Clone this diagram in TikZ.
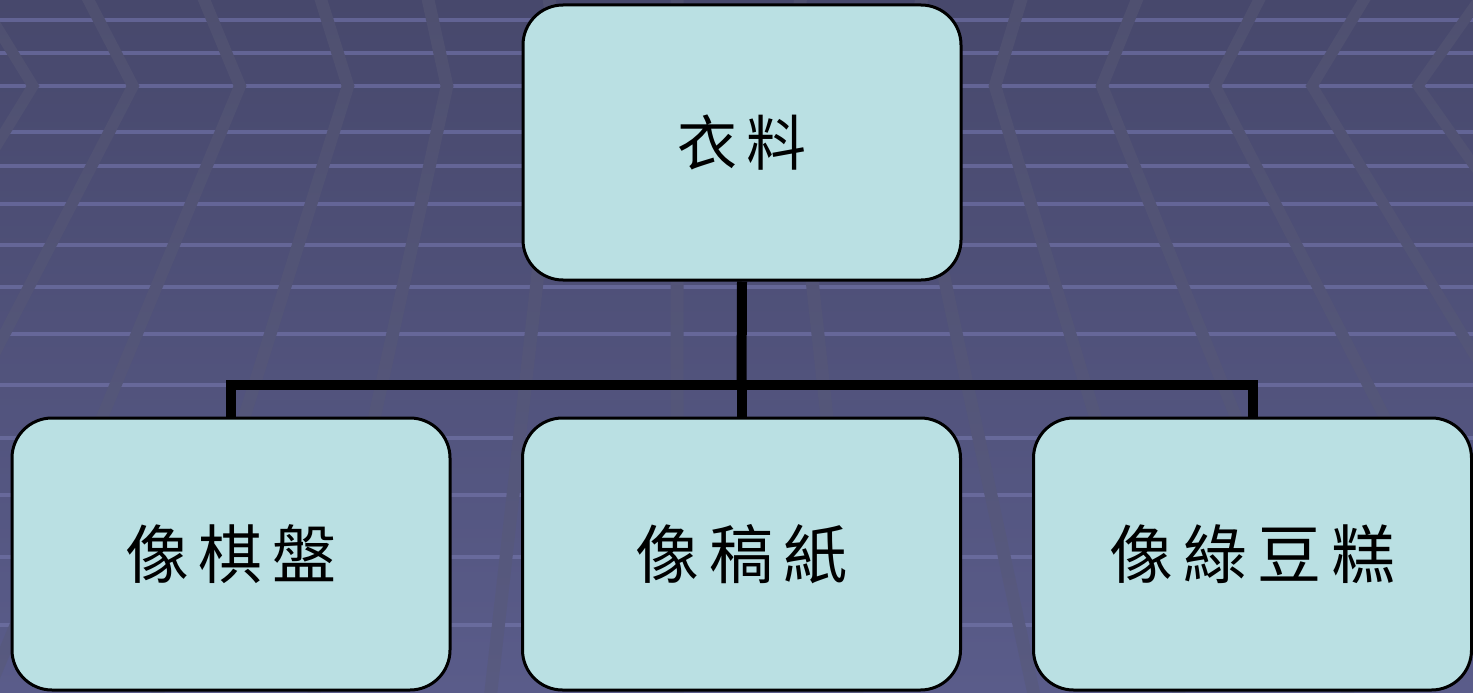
\documentclass[tikz,border=0pt]{standalone}
\usepackage{fontspec}
\newfontfamily\cjkfont{Noto Sans CJK TC}
\begin{document}
\begin{tikzpicture}[x=1pt,y=-1pt]
\definecolor{bgtop}{RGB}{71,72,108}
\definecolor{bgbot}{RGB}{90,92,138}
\definecolor{dgtop}{RGB}{79,80,112}
\definecolor{dgbot}{RGB}{88,90,128}
\definecolor{hltop}{RGB}{98,99,148}
\definecolor{hlbot}{RGB}{106,108,158}
\definecolor{boxfill}{RGB}{186,224,227}
\tikzset{
  card/.style={draw=black, line width=3pt, fill=boxfill, rounded corners=40pt,
    minimum width=438pt, minimum height=272pt, inner sep=0pt,
    font=\cjkfont\fontsize{64}{70}\selectfont},
  topcard/.style={card, minimum height=275pt, font=\cjkfont\fontsize{60}{66}\selectfont},
  link/.style={line width=10pt, draw=black}
}
\useasboundingbox (0,0) rectangle (1473,693);
% background
\shade[top color=bgtop, bottom color=bgbot] (0,0) rectangle (1473,693);
% horizontal grid lines
\foreach \yy in {20,53,86,132,166,204,245,287,334,385,438,495,557,625} {
  \pgfmathtruncatemacro{\pp}{\yy/6.93}
  \colorlet{hl}{hlbot!\pp!hltop}
  \draw[hl, line width=4pt] (0,\yy) -- (1473,\yy);
}
% chevron perspective lines
\begin{scope}
\clip \foreach \a [evaluate=\a as \xt using {\a+(\a-677)/1050*86},
                   evaluate=\a as \xb using {\a+(\a-677)/1050*607}]
  in {33,133,240,348,447,559,677,791,903,995,1102,1215,1312,1418}
  { (\xt-6.5,0) -- (\a-6.5,86) -- (\xb-6.5,693) -- (\xb+6.5,693) -- (\a+6.5,86) -- (\xt+6.5,0) -- cycle };
\shade[top color=dgtop, bottom color=dgbot] (0,0) rectangle (1473,693);
\end{scope}
% boxes
\node[topcard] (top) at (742,142.5) {衣\hspace{10pt}料};
\node[card] (left) at (231,554) {像\hspace{10pt}棋\hspace{10pt}盤};
\node[card] (mid) at (741.5,554) {像\hspace{10pt}稿\hspace{10pt}紙};
\node[card] (right) at (1252.5,554) {像\hspace{10pt}綠\hspace{10pt}豆\hspace{10pt}糕};
% connectors
\coordinate (j) at (741.5,385);
\draw[link] (top.south) -- (j);
\draw[link] (j) -| (left.north);
\draw[link] (j) -| (right.north);
\draw[link] (j) -- (mid.north);
\end{tikzpicture}
\end{document}
